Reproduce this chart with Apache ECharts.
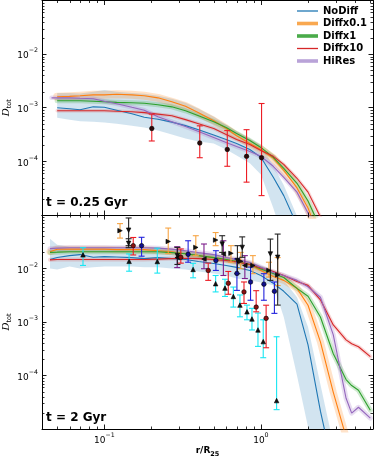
<!DOCTYPE html>
<html><head><meta charset="utf-8">
<script src="https://cdn.jsdelivr.net/npm/echarts@6/dist/echarts.min.js"></script>
<style>html,body{margin:0;padding:0;background:#fff}#c{width:374px;height:457px}</style>
</head><body><div id="c"></div>
<script>
// ---------------- data ----------------
const xTop = [0.046, 0.05, 0.06, 0.07, 0.085, 0.1, 0.12, 0.15, 0.18, 0.22, 0.27, 0.33, 0.4, 0.5, 0.6, 0.7, 0.85, 1.0, 1.2, 1.4, 1.7, 2.0, 2.4, 2.9];
const noDiffTop = [null, 1.0e-3, 9.6e-4, 9.2e-4, 1.04e-3, 1.02e-3, 9.0e-4, 7.7e-4, 6.65e-4, 6.1e-4, 5.4e-4, 4.64e-4, 3.9e-4, 3.1e-4, 2.55e-4, 2.15e-4, 1.67e-4, 1.19e-4, 5.05e-5, 2.3e-5, 6.5e-6, null, null, null];
const noDiffTopHi = [null, 1.89e-3, 1.89e-3, 1.85e-3, 1.98e-3, 2.15e-3, 1.98e-3, 1.89e-3, 1.82e-3, 1.67e-3, 1.47e-3, 1.24e-3, 9.6e-4, 6.8e-4, 4.84e-4, 3.6e-4, 2.67e-4, 1.98e-4, 8.4e-5, 3.6e-5, 9.6e-6, 3.4e-6, null, null];
const noDiffTopLo = [null, 6.5e-4, 6.0e-4, 5.6e-4, 5.5e-4, 5.3e-4, 5.05e-4, 4.64e-4, 4.26e-4, 3.75e-4, 3.16e-4, 2.67e-4, 2.35e-4, 2.15e-4, 1.67e-4, 1.29e-4, 9.2e-5, 5.7e-5, 1.35e-5, 3.4e-6, 1e-6, 1e-6, null, null];
const diff01Top = [null, 1.6e-3, 1.63e-3, 1.67e-3, 1.74e-3, 1.74e-3, 1.78e-3, 1.74e-3, 1.67e-3, 1.53e-3, 1.29e-3, 1.07e-3, 8.1e-4, 5.7e-4, 4.1e-4, 3.0e-4, 2.15e-4, 1.67e-4, 1.14e-4, 6.8e-5, 3.2e-5, 1.35e-5, 3.4e-6, null];
const diff1Top = [null, 1.35e-3, 1.35e-3, 1.35e-3, 1.32e-3, 1.29e-3, 1.26e-3, 1.24e-3, 1.21e-3, 1.14e-3, 1.04e-3, 8.8e-4, 7.1e-4, 5.5e-4, 4.3e-4, 3.3e-4, 2.45e-4, 1.82e-4, 1.19e-4, 7.4e-5, 3.9e-5, 1.82e-5, 5.7e-6, null];
const diff10Top = [null, 8.8e-4, 8.8e-4, 8.8e-4, 8.8e-4, 8.8e-4, 8.6e-4, 8.4e-4, 8.1e-4, 7.6e-4, 7.1e-4, 6.0e-4, 5.05e-4, 4.1e-4, 3.16e-4, 2.55e-4, 2.06e-4, 1.6e-4, 1.24e-4, 8.8e-5, 4.84e-5, 2.67e-5, 9.2e-6, 2.8e-6];
const hiResTop = [1.53e-3, 1.53e-3, 1.53e-3, 1.5e-3, 1.47e-3, 1.32e-3, 1.19e-3, 1.02e-3, 9.0e-4, 6.8e-4, 5.5e-4, 4.45e-4, 3.6e-4, 2.78e-4, 2.25e-4, 1.89e-4, 1.53e-4, 1.24e-4, 8.1e-5, 5.05e-5, 2.67e-5, 1.09e-5, 3.4e-6, null];

const obsTopX = [0.201, 0.407, 0.61, 0.81, 1.01];
const obsTopY = [4.1e-4, 2.2e-4, 1.67e-4, 1.24e-4, 1.17e-4];
const obsTopLo = [2.4e-4, 1.17e-4, 8.1e-5, 4.1e-5, 2.3e-5];
const obsTopHi = [7.6e-4, 4.6e-4, 3.75e-4, 3.9e-4, 1.2e-3];

const xBot = [0.045, 0.05, 0.06, 0.07, 0.085, 0.1, 0.12, 0.15, 0.18, 0.22, 0.27, 0.33, 0.4, 0.5, 0.6, 0.7, 0.85, 1.0, 1.2, 1.4, 1.7, 2.0, 2.4, 2.9, 3.5, 3.8, 4.2, 5.0];
const noDiffBot = [1.47e-2, 1.6e-2, 1.74e-2, 1.82e-2, 1.62e-2, 1.67e-2, 1.64e-2, 1.6e-2, 1.53e-2, 1.6e-2, 1.53e-2, 1.47e-2, 1.35e-2, 1.24e-2, 1.14e-2, 1.05e-2, 9.2e-3, 7.4e-3, 5.27e-3, 3.75e-3, 2.15e-3, 3.75e-4, 2.15e-5, 1.8e-6, null, null, null, null];
const noDiffBotHi = [3.6e-2, 2.78e-2, 2.55e-2, 2.55e-2, 2.55e-2, 2.55e-2, 2.55e-2, 2.55e-2, 2.55e-2, 2.45e-2, 2.35e-2, 2.15e-2, 1.98e-2, 1.82e-2, 1.67e-2, 1.53e-2, 1.35e-2, 1.14e-2, 9.2e-3, 6.0e-3, 2.9e-3, 8.1e-4, 6.8e-5, 5.3e-6, null, null, null, null];
const noDiffBotLo = [1.0e-2, 9.6e-3, 1.09e-2, 1.0e-2, 1.05e-2, 1.09e-2, 1.09e-2, 1.09e-2, 1.05e-2, 1.05e-2, 1.0e-2, 9.6e-3, 8.8e-3, 8.1e-3, 7.4e-3, 6.5e-3, 6.0e-3, 5.5e-3, 4.84e-3, 1.24e-3, 1.0e-4, 1.09e-5, 1.2e-6, 1e-6, null, null, null, null];
const diff01Bot = [2.06e-2, 2.3e-2, 2.3e-2, 2.3e-2, 2.3e-2, 2.3e-2, 2.25e-2, 2.25e-2, 2.25e-2, 2.15e-2, 2.06e-2, 1.89e-2, 1.74e-2, 1.6e-2, 1.47e-2, 1.35e-2, 1.19e-2, 9.2e-3, 7.1e-3, 6.0e-3, 4.26e-3, 2.06e-3, 4.26e-4, 4.84e-5, 7.1e-6, null, null, null];
const diff1Bot = [2.0e-2, 2.02e-2, 2.06e-2, 2.06e-2, 2.06e-2, 2.06e-2, 2.06e-2, 2.06e-2, 2.06e-2, 2.06e-2, 1.98e-2, 1.89e-2, 1.74e-2, 1.6e-2, 1.47e-2, 1.35e-2, 1.19e-2, 9.8e-3, 8.1e-3, 6.8e-3, 4.26e-3, 3.03e-3, 1.24e-3, 2.55e-4, 8.4e-5, 6.5e-5, 5.3e-5, 2.25e-5];
const diff10Bot = [1.45e-2, 1.47e-2, 1.47e-2, 1.47e-2, 1.47e-2, 1.47e-2, 1.47e-2, 1.47e-2, 1.47e-2, 1.5e-2, 1.53e-2, 1.55e-2, 1.53e-2, 1.47e-2, 1.41e-2, 1.32e-2, 1.19e-2, 1.02e-2, 8.8e-3, 7.4e-3, 5.74e-3, 4.84e-3, 2.6e-3, 8.8e-4, 4.64e-4, 3.91e-4, 3.44e-4, 2.25e-4];
const hiResBot = [2.35e-2, 2.4e-2, 2.45e-2, 2.45e-2, 2.45e-2, 2.45e-2, 2.45e-2, 2.45e-2, 2.45e-2, 2.4e-2, 2.3e-2, 2.15e-2, 1.98e-2, 1.82e-2, 1.6e-2, 1.47e-2, 1.29e-2, 1.05e-2, 8.4e-3, 7.4e-3, 6.0e-3, 4.55e-3, 2.9e-3, 5.74e-4, 3.75e-5, 1.98e-5, 2.55e-5, 1.6e-5];

const cyanX = [0.0731, 0.144, 0.218, 0.369, 0.514, 0.59, 0.667, 0.735, 0.815, 0.877, 0.958, 1.035, 1.26];
const cyanY = [1.8e-2, 1.36e-2, 1.35e-2, 9.6e-3, 5.2e-3, 4.3e-3, 3.0e-3, 2.07e-3, 1.55e-3, 1.14e-3, 7.1e-4, 4.3e-4, 3.4e-5];
const cyanLo = [1.14e-2, 8.9e-3, 8.2e-3, 6.7e-3, 3.65e-3, 3.0e-3, 1.9e-3, 1.25e-3, 1.1e-3, 7.1e-4, 3.5e-4, 2.15e-4, 2.3e-5];
const cyanHi = [2.45e-2, 1.87e-2, 2.4e-2, 1.25e-2, 7.4e-3, 6.3e-3, 4.5e-3, 3.2e-3, 2.07e-3, 1.8e-3, 1.47e-3, 1.1e-3, 5.3e-4];
const redX = [0.153, 0.308, 0.461, 0.619, 0.78, 0.933, 1.08];
const redY = [2.67e-2, 1.62e-2, 9.2e-3, 5.3e-3, 3.65e-3, 1.9e-3, 1.17e-3];
const redLo = [1.79e-2, 1.26e-2, 6.0e-3, 3.3e-3, 2.22e-3, 1.55e-3, 3.3e-4];
const redHi = [3.8e-2, 2.32e-2, 1.26e-2, 8.8e-3, 5.6e-3, 3.85e-3, 2.06e-3];
const blueX = [0.173, 0.343, 0.516, 0.703, 0.859, 1.045, 1.22];
const blueY = [2.67e-2, 1.84e-2, 1.41e-2, 8.1e-3, 5.6e-3, 5.1e-3, 3.75e-3];
const blueLo = [1.7e-2, 1.31e-2, 9.2e-3, 3.9e-3, 2.55e-3, 2.55e-3, 1.45e-3];
const blueHi = [3.83e-2, 3.3e-2, 2.15e-2, 1.51e-2, 1.06e-2, 8.0e-3, 5.6e-3];
const orangeX = [0.126, 0.256, 0.384, 0.514, 0.644, 0.743, 0.889, 1.125, 1.28];
const orangeY = [5.1e-2, 3.2e-2, 2.48e-2, 3.4e-2, 1.92e-2, 1.36e-2, 1.14e-2, 9.2e-3, 7.6e-3];
const orangeLo = [3.7e-2, 1.9e-2, 1.74e-2, 2.67e-2, 1.31e-2, 9.9e-3, 8.0e-3, 6.9e-3, 4.8e-3];
const orangeHi = [6.9e-2, 5.7e-2, 4.1e-2, 4.7e-2, 2.67e-2, 2.0e-2, 1.74e-2, 1.31e-2, 1.6e-2];
const blackX = [0.143, 0.143, 0.293, 0.566, 0.708, 0.76, 1.15, 1.28];
const blackY = [5.2e-2, 2.95e-2, 1.74e-2, 2.86e-2, 1.41e-2, 2.48e-2, 1.87e-2, 1.62e-2];
const blackLo = [2.67e-2, 2.45e-2, 1.19e-2, 2.0e-2, 8.0e-3, 1.62e-2, 6.0e-3, 2.07e-3];
const blackHi = [8.8e-2, 3.6e-2, 2.48e-2, 4.1e-2, 2.67e-2, 3.9e-2, 3.55e-2, 4.4e-2];
const purpleX = [0.292, 0.433, 0.576, 0.79];
const purpleY = [1.6e-2, 1.5e-2, 1.87e-2, 1.14e-2];
const purpleLo = [1.04e-2, 9.9e-3, 7.4e-3, 6.5e-3];
const purpleHi = [2.55e-2, 2.87e-2, 3.3e-2, 1.74e-2];

const seriesNames = ['NoDiff', 'Diffx0.1', 'Diffx1', 'Diffx10', 'HiRes'];
const panelTitles = ['t = 0.25 Gyr', 't = 2 Gyr'];
const xLabelExps = [-1, 0];
const yLabelExps = [-4, -3, -2];
const xMinor = [0.05, 0.06, 0.07, 0.08, 0.09, 0.2, 0.3, 0.4, 0.5, 0.6, 0.7, 0.8, 0.9, 2, 3, 4, 5];
const yMinor = [];
[-5, -4, -3, -2].forEach(e => { for (let k = 2; k <= 9; k++) yMinor.push(+(k * Math.pow(10, e)).toPrecision(3)); });

// ---------------- styling ----------------
const FONT = 'DejaVu Sans';
const C = { blue: '#1f77b4', orange: '#ff7f0e', green: '#2ca02c', red: '#d62728', purple: '#9467bd' };
const X_MIN = 0.04, X_MAX = 5.2, Y_MIN = 1e-5, Y_MAX = 1e-1;

const RICH = {
  a: { fontSize: 9, fontFamily: FONT, color: '#000', lineHeight: 13, verticalAlign: 'bottom' },
  b: { fontSize: 6.3, fontFamily: FONT, color: '#000', lineHeight: 13, verticalAlign: 'top' }
};
function powLabel(v, allowed) {
  const e = Math.log10(v), r = Math.round(e);
  if (Math.abs(e - r) > 1e-6 || allowed.indexOf(r) < 0) return '';
  return '{a|10}{b|' + (r < 0 ? '\u2212' + (-r) : r) + '}';
}
function xAxisDef(gi, pos, showLabel, extra) {
  return Object.assign({
    type: 'log', logBase: 10, gridIndex: gi, position: pos, min: X_MIN, max: X_MAX,
    axisLine: { show: true, onZero: false, lineStyle: { color: '#000', width: 1 } },
    axisTick: { show: true, inside: true, length: 4.5, lineStyle: { color: '#000', width: 0.9 } },
    axisLabel: { show: showLabel, margin: 3, formatter: v => powLabel(v, xLabelExps), rich: RICH },
    splitLine: { show: false }, minorTick: { show: false }, minorSplitLine: { show: false }
  }, extra || {});
}
function yAxisDef(gi, pos, showLabel, extra) {
  return Object.assign({
    type: 'log', logBase: 10, gridIndex: gi, position: pos, min: Y_MIN, max: Y_MAX,
    axisLine: { show: true, onZero: false, lineStyle: { color: '#000', width: 1 } },
    axisTick: { show: true, inside: true, length: 4.5, lineStyle: { color: '#000', width: 0.9 } },
    axisLabel: { show: showLabel, margin: 4, formatter: v => powLabel(v, yLabelExps), rich: RICH },
    splitLine: { show: false }, minorTick: { show: false }, minorSplitLine: { show: false }
  }, extra || {});
}
const yName = {
  name: '{d|D}{s|tot}', nameLocation: 'middle', nameRotate: 90, nameGap: 29, nameMoveOverlap: false,
  nameTextStyle: { rich: {
    d: { fontSize: 10, fontFamily: 'DejaVu Serif', fontStyle: 'italic', color: '#000', verticalAlign: 'top', lineHeight: 12 },
    s: { fontSize: 6.5, fontFamily: FONT, color: '#000', verticalAlign: 'bottom', lineHeight: 12 } } }
};
const xName = {
  name: '{a|r/R}{s|25}', nameLocation: 'middle', nameGap: 17, nameMoveOverlap: false,
  nameTextStyle: { rich: {
    a: { fontSize: 9, fontFamily: FONT, fontWeight: 'bold', color: '#000', verticalAlign: 'top', lineHeight: 12 },
    s: { fontSize: 6.5, fontFamily: FONT, fontWeight: 'bold', color: '#000', verticalAlign: 'bottom', lineHeight: 12 } } }
};

// helpers
function pairs(xs, ys) { return xs.map((x, i) => [x, ys[i]]); }
function lineSeries(name, xs, ys, gi, color) {
  return { name, type: 'line', xAxisIndex: gi * 2, yAxisIndex: gi * 2, data: pairs(xs, ys), symbol: 'none',
    lineStyle: { color, width: 1.1 }, itemStyle: { color }, z: 4, clip: true, connectNulls: false, silent: true };
}
function glowSeries(xs, ys, gi, color, width, opacity) {
  return { type: 'line', xAxisIndex: gi * 2, yAxisIndex: gi * 2, data: pairs(xs, ys), symbol: 'none',
    lineStyle: { color, width, opacity, join: 'round', cap: 'round' }, z: 2, clip: true, silent: true };
}
function bandSeries(xs, lo, hi, gi, color, opacity) {
  return { type: 'custom', xAxisIndex: gi * 2, yAxisIndex: gi * 2, silent: true, z: 1, clip: true,
    data: [[1, 1e-3]],
    renderItem(params, api) {
      const top = [], bot = [];
      for (let i = 0; i < xs.length; i++) {
        if (hi[i] == null || lo[i] == null) continue;
        top.push(api.coord([xs[i], hi[i]]));
        bot.push(api.coord([xs[i], lo[i]]));
      }
      const cs = params.coordSys;
      return { type: 'polygon', shape: { points: top.concat(bot.reverse()) }, style: { fill: color, opacity },
        clipPath: { type: 'rect', shape: { x: cs.x, y: cs.y, width: cs.width, height: cs.height } } };
    } };
}
function errSeries(xs, ys, lo, hi, gi, color) {
  return { type: 'custom', xAxisIndex: gi * 2, yAxisIndex: gi * 2, silent: true, z: 5,
    data: xs.map((x, i) => [x, ys[i], lo[i], hi[i]]), encode: { x: 0, y: 1 },
    renderItem(params, api) {
      const x = api.value(0);
      const a = api.coord([x, api.value(2)]), b = api.coord([x, api.value(3)]);
      const w = 3, st = { stroke: color, lineWidth: 1.1 };
      return { type: 'group', children: [
        { type: 'line', shape: { x1: a[0], y1: a[1], x2: b[0], y2: b[1] }, style: st },
        { type: 'line', shape: { x1: a[0] - w, y1: a[1], x2: a[0] + w, y2: a[1] }, style: st },
        { type: 'line', shape: { x1: b[0] - w, y1: b[1], x2: b[0] + w, y2: b[1] }, style: st } ] };
    } };
}
function markSeries(xs, ys, gi, symbol, rot, fill, size) {
  return { type: 'scatter', xAxisIndex: gi * 2, yAxisIndex: gi * 2, data: pairs(xs, ys), symbol, symbolRotate: rot,
    symbolSize: size, itemStyle: { color: fill, borderColor: '#000', borderWidth: 0.6, opacity: 1 }, z: 6, silent: true };
}
function minorTicks(gi) {
  return { type: 'custom', xAxisIndex: gi * 2, yAxisIndex: gi * 2, silent: true, z: 10, data: [[1, 1e-3]],
    renderItem(params, api) {
      const cs = params.coordSys, L = 2.5, st = { stroke: '#000', lineWidth: 0.8 }, ch = [];
      xMinor.forEach(v => {
        const p = Math.round(api.coord([v, 1e-3])[0]) + 0.5;
        ch.push({ type: 'line', shape: { x1: p, y1: cs.y + cs.height, x2: p, y2: cs.y + cs.height - L }, style: st });
        ch.push({ type: 'line', shape: { x1: p, y1: cs.y, x2: p, y2: cs.y + L }, style: st });
      });
      yMinor.forEach(v => {
        const q = Math.round(api.coord([1, v])[1]) + 0.5;
        ch.push({ type: 'line', shape: { x1: cs.x, y1: q, x2: cs.x + L, y2: q }, style: st });
        ch.push({ type: 'line', shape: { x1: cs.x + cs.width, y1: q, x2: cs.x + cs.width - L, y2: q }, style: st });
      });
      return { type: 'group', children: ch };
    } };
}

const series = [
  bandSeries(xTop, noDiffTopLo, noDiffTopHi, 0, C.blue, 0.2),
  glowSeries(xTop, diff01Top, 0, C.orange, 8, 0.22),
  glowSeries(xTop, diff1Top, 0, C.green, 5, 0.22),
  glowSeries(xTop, diff10Top, 0, C.red, 3.5, 0.18),
  glowSeries(xTop, hiResTop, 0, C.purple, 4.5, 0.22),
  lineSeries('NoDiff', xTop, noDiffTop, 0, C.blue),
  lineSeries('Diffx0.1', xTop, diff01Top, 0, C.orange),
  lineSeries('Diffx1', xTop, diff1Top, 0, C.green),
  lineSeries('Diffx10', xTop, diff10Top, 0, C.red),
  lineSeries('HiRes', xTop, hiResTop, 0, C.purple),
  errSeries(obsTopX, obsTopY, obsTopLo, obsTopHi, 0, '#ec1c24'),
  markSeries(obsTopX, obsTopY, 0, 'circle', 0, '#2a0a0a', 4.5),

  bandSeries(xBot, noDiffBotLo, noDiffBotHi, 1, C.blue, 0.2),
  glowSeries(xBot, diff01Bot, 1, C.orange, 7, 0.22),
  glowSeries(xBot, diff1Bot, 1, C.green, 5, 0.22),
  glowSeries(xBot, diff10Bot, 1, C.red, 4, 0.18),
  glowSeries(xBot, hiResBot, 1, C.purple, 5, 0.22),
  lineSeries('NoDiff', xBot, noDiffBot, 1, C.blue),
  lineSeries('Diffx0.1', xBot, diff01Bot, 1, C.orange),
  lineSeries('Diffx1', xBot, diff1Bot, 1, C.green),
  lineSeries('Diffx10', xBot, diff10Bot, 1, C.red),
  lineSeries('HiRes', xBot, hiResBot, 1, C.purple),
  errSeries(cyanX, cyanY, cyanLo, cyanHi, 1, '#19e6f2'),
  errSeries(orangeX, orangeY, orangeLo, orangeHi, 1, '#f7a443'),
  errSeries(purpleX, purpleY, purpleLo, purpleHi, 1, '#7d1f8c'),
  errSeries(redX, redY, redLo, redHi, 1, '#ec1c24'),
  errSeries(blueX, blueY, blueLo, blueHi, 1, '#2323dc'),
  errSeries(blackX, blackY, blackLo, blackHi, 1, '#222222'),
  markSeries(cyanX, cyanY, 1, 'triangle', 0, '#111', 4.5),
  markSeries(orangeX, orangeY, 1, 'triangle', -90, '#111', 4.5),
  markSeries(purpleX, purpleY, 1, 'triangle', 90, '#111', 4.5),
  markSeries(redX, redY, 1, 'circle', 0, '#8a1010', 4.5),
  markSeries(blueX, blueY, 1, 'circle', 0, '#10108c', 4.5),
  markSeries(blackX, blackY, 1, 'triangle', 180, '#111', 4.5),
  minorTicks(0), minorTicks(1)
];

const THIN = 'path://M0 0H21V1.3H0Z';
const THICK = 'path://M0 0H21V3.6H0Z';
const chart = echarts.init(document.getElementById('c'), null, { renderer: 'canvas' });
chart.setOption({
  animation: false,
  backgroundColor: '#fff',
  title: [
    { text: panelTitles[0], left: 46, top: 197, padding: 0, textStyle: { fontSize: 12, fontWeight: 'bold', fontFamily: FONT, color: '#000' } },
    { text: panelTitles[1], left: 46, top: 412, padding: 0, textStyle: { fontSize: 12, fontWeight: 'bold', fontFamily: FONT, color: '#000' } }
  ],
  legend: {
    orient: 'vertical', left: 297, top: 6, itemWidth: 21, itemHeight: 10, itemGap: 2.5, padding: 0,
    symbolKeepAspect: true,
    textStyle: { fontSize: 10, fontWeight: 'bold', fontFamily: FONT, color: '#000' },
    selectedMode: false,
    data: [
      { name: seriesNames[0], icon: THIN, itemStyle: { color: C.blue, borderWidth: 0 } },
      { name: seriesNames[1], icon: THICK, itemStyle: { color: '#f9a850', borderWidth: 0 } },
      { name: seriesNames[2], icon: THICK, itemStyle: { color: '#4aab4a', borderWidth: 0 } },
      { name: seriesNames[3], icon: THIN, itemStyle: { color: C.red, borderWidth: 0 } },
      { name: seriesNames[4], icon: THICK, itemStyle: { color: '#b9a3d8', borderWidth: 0 } }
    ]
  },
  grid: [
    { left: 42, width: 331, top: 0.5, height: 214.5, outerBoundsMode: 'none', containLabel: false },
    { left: 42, width: 331, top: 215, height: 214, outerBoundsMode: 'none', containLabel: false }
  ],
  xAxis: [
    xAxisDef(0, 'bottom', false), xAxisDef(0, 'top', false),
    xAxisDef(1, 'bottom', true, xName), xAxisDef(1, 'top', false)
  ],
  yAxis: [
    yAxisDef(0, 'left', true, yName), yAxisDef(0, 'right', false),
    yAxisDef(1, 'left', true, yName), yAxisDef(1, 'right', false)
  ],
  series
});
</script></body></html>
